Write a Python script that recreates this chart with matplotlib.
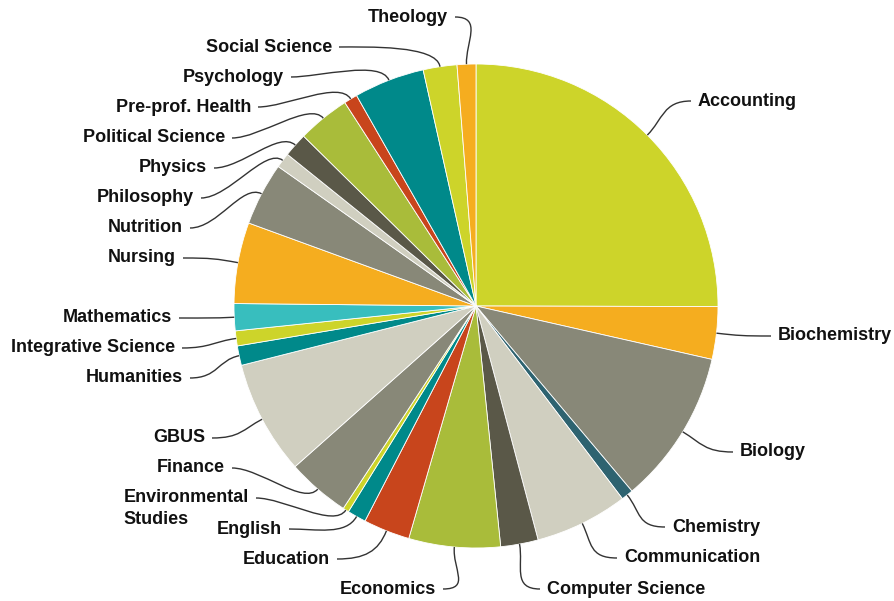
import numpy as np
import matplotlib.pyplot as plt
from matplotlib.path import Path
from matplotlib.patches import PathPatch

# majors, clockwise from 12 o'clock, share of students (%)
majors = ['Accounting', 'Biochemistry', 'Biology', 'Chemistry', 'Communication',
          'Computer Science', 'Economics', 'Education', 'English',
          'Environmental\nStudies', 'Finance', 'GBUS', 'Humanities',
          'Integrative Science', 'Mathematics', 'Nursing', 'Nutrition',
          'Philosophy', 'Physics', 'Political Science', 'Pre-prof. Health',
          'Psychology', 'Social Science', 'Theology']
shares = [25.0, 3.5, 10.3, 0.8, 6.2, 2.5, 6.1, 3.1, 1.25, 0.4, 4.2, 7.6, 1.3,
          1.0, 1.8, 5.4, 4.2, 1.0, 1.6, 3.5, 0.9, 4.7, 2.25, 1.25]

YG, OR, GR, LT, DK, OL, RD, TL = ('#cdd42a', '#f5ad1f', '#888878', '#d0cfc0',
                                  '#5a5848', '#a9bc3a', '#c8451c', '#00898a')
colors = [YG, OR, GR, '#2e6370', LT, DK, OL, RD, TL, YG, GR, LT, TL, YG,
          '#38bebe', OR, GR, LT, DK, OL, RD, TL, YG, OR]

# label anchor points in pixel coords (x, y from top), and alignment
label_pos = [(698, 101, 'left'), (778, 336, 'left'), (740, 452, 'left'),
             (672, 527, 'left'), (624, 558, 'left'), (547, 589, 'left'),
             (436, 589, 'right'), (330, 559, 'right'), (282, 529, 'right'),
             (249, 498, 'right'), (225, 468, 'right'), (205, 438, 'right'),
             (183, 378, 'right'), (175, 348, 'right'), (172, 318, 'right'),
             (176, 258, 'right'), (183, 228, 'right'), (194, 198, 'right'),
             (207, 168, 'right'), (225, 138, 'right'), (251, 107, 'right'),
             (284, 77, 'right'), (332, 47, 'right'), (448, 17, 'right')]

W, H = 894, 601
cx, cy, r = 476, H - 306, 242
FONT = dict(fontsize=13, fontweight='bold', family='Liberation Sans', color='#111111')

fig = plt.figure(figsize=(W / 100, H / 100), dpi=100)
ax = fig.add_axes([0, 0, 1, 1])

wedges, _ = ax.pie(shares, colors=colors, startangle=90, counterclock=False,
                   center=(cx, cy), radius=r, frame=True,
                   wedgeprops=dict(edgecolor='white', linewidth=0.6))
ax.set_xlim(0, W)
ax.set_ylim(0, H)
ax.set_aspect('equal')
ax.axis('off')

for w, name, (lx, ly, ha) in zip(wedges, majors, label_pos):
    th = np.deg2rad((w.theta1 + w.theta2) / 2)
    ux, uy = np.cos(th), np.sin(th)
    p0 = (cx + r * ux, cy + r * uy)
    p1 = (p0[0] + 22 * ux, p0[1] + 22 * uy)
    sgn = 1 if ha == 'right' else -1
    p3 = (lx + sgn * 7, H - ly)
    p2 = (p3[0] + sgn * 28, H - ly)
    path = Path([p0, p1, p2, p3], [Path.MOVETO, Path.CURVE4, Path.CURVE4, Path.CURVE4])
    ax.add_patch(PathPatch(path, fill=False, edgecolor='#333333', lw=1.0))

    first, _, rest = name.partition('\n')
    t = ax.text(lx, H - ly, first, ha=ha, va='center', **FONT)
    if rest:
        ax.annotate(rest, xy=(0, 0), xycoords=t, xytext=(0, -3),
                    textcoords='offset points', ha='left', va='top', **FONT)

fig.savefig('out.png', dpi=100, facecolor='white')
